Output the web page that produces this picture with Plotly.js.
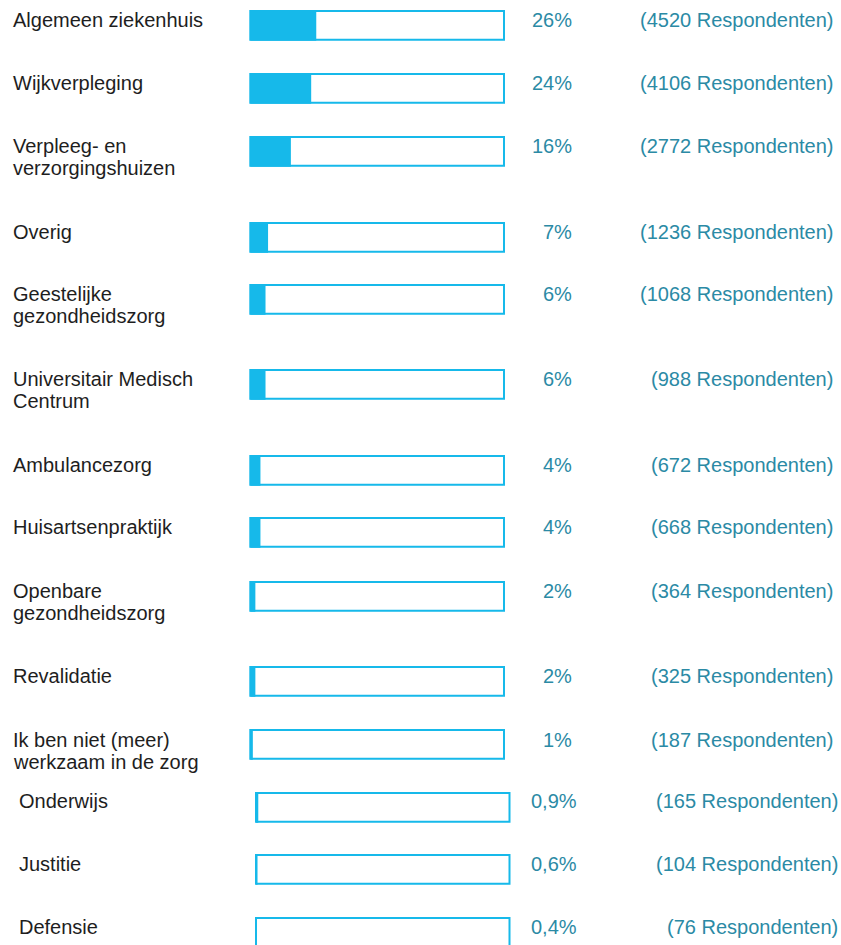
<!DOCTYPE html>
<html>
<head>
<meta charset="utf-8">
<script src="https://cdn.plot.ly/plotly-3.0.1.min.js"></script>
<style>html,body{margin:0;padding:0;background:#fff;}#chart{width:841px;height:945px;}</style>
</head>
<body>
<div id="chart"></div>
<script>
// ---- data ----
const categories = [
  "Algemeen ziekenhuis",
  "Wijkverpleging",
  "Verpleeg- en<br>verzorgingshuizen",
  "Overig",
  "Geestelijke<br>gezondheidszorg",
  "Universitair Medisch<br>Centrum",
  "Ambulancezorg",
  "Huisartsenpraktijk",
  "Openbare<br>gezondheidszorg",
  "Revalidatie",
  "Ik ben niet (meer)<br>werkzaam in de zorg",
  "Onderwijs",
  "Justitie",
  "Defensie"
];
const percentages = [26, 24, 16, 7, 6, 6, 4, 4, 2, 2, 1, 0.9, 0.6, 0.4];
const percentLabels = ["26%", "24%", "16%", "7%", "6%", "6%", "4%", "4%", "2%", "2%", "1%", "0,9%", "0,6%", "0,4%"];
const respondents = [4520, 4106, 2772, 1236, 1068, 988, 672, 668, 364, 325, 187, 165, 104, 76];
const scaleMax = 100;

// ---- layout constants (pixel layout of the rows, not data) ----
const W = 841, H = 945;
const rowTop = [10, 73, 136, 222, 284, 369, 455, 517, 581, 666, 729, 792, 854, 917];
const groupOf = [0,0,0,0,0,0,0,0,0,0,0,1,1,1];      // bottom rows are shifted slightly right
const labelLeft = [12, 18];
const pctRight = [573, 577.5];
const respRight = [833.5, 838.5];
const textMidOffset = [10.3, 10, 10, 10, 10, 10, 10, 10, 10, 10, 11, 8.5, 9.7, 10];
const lineGap = 21.8;
const boxHeight = 28.8;
const fillHeight = 30.8;
const cyan = "#16b9ea";
const teal = "#2b8aa5";
const dark = "#1e1e1e";
const fontFam = "Arial, 'Liberation Sans', Helvetica, sans-serif";
const fs = 20;

const traces = [];
[0, 1].forEach(g => {
  const idx = categories.map((_, i) => i).filter(i => groupOf[i] === g);
  const ys = idx.map(i => rowTop[i] + 15.4);
  const xa = g === 0 ? "x" : "x2";
  traces.push({
    type: "bar", orientation: "h", xaxis: xa, yaxis: "y",
    x: idx.map(() => scaleMax), y: ys, width: boxHeight,
    marker: {color: "#ffffff", line: {color: cyan, width: 2}},
    hoverinfo: "skip", showlegend: false
  });
  traces.push({
    type: "bar", orientation: "h", xaxis: xa, yaxis: "y",
    x: idx.map(i => percentages[i]), y: ys, width: fillHeight,
    marker: {color: cyan, line: {width: 0}},
    text: idx.map(i => categories[i]), textposition: "none",
    hoverinfo: "text+x", showlegend: false
  });
});

const annotations = [];
categories.forEach((c, i) => {
  const g = groupOf[i];
  const mid = rowTop[i] + textMidOffset[i];
  c.split("<br>").forEach((line, k) => {
    annotations.push({
      xref: "paper", yref: "y", x: labelLeft[g] / W, y: mid + k * lineGap,
      xanchor: "left", yanchor: "middle", text: line, showarrow: false,
      borderpad: 0, font: {family: fontFam, size: fs, color: dark}
    });
  });
  annotations.push({
    xref: "paper", yref: "y", x: pctRight[g] / W, y: mid,
    xanchor: "right", yanchor: "middle", text: percentLabels[i], showarrow: false,
    borderpad: 0, font: {family: fontFam, size: fs, color: teal}
  });
  annotations.push({
    xref: "paper", yref: "y", x: respRight[g] / W, y: mid,
    xanchor: "right", yanchor: "middle", text: "(" + respondents[i] + " Respondenten)", showarrow: false,
    borderpad: 0, font: {family: fontFam, size: fs, color: teal}
  });
});

function xRange(left, right) {
  const s = (right - left) / scaleMax;
  return [-left / s, (W - left) / s];
}
const hidden = {showgrid: false, zeroline: false, showticklabels: false, ticks: "", showline: false, fixedrange: true};

const layout = {
  width: W, height: H,
  margin: {l: 0, r: 0, t: 0, b: 0, pad: 0},
  paper_bgcolor: "#ffffff", plot_bgcolor: "#ffffff",
  barmode: "overlay",
  showlegend: false,
  xaxis: Object.assign({domain: [0, 1], range: xRange(250.3, 504), anchor: "y"}, hidden),
  xaxis2: Object.assign({domain: [0, 1], range: xRange(256, 509.5), anchor: "y", overlaying: "x"}, hidden),
  yaxis: Object.assign({domain: [0, 1], range: [H, 0], anchor: "x"}, hidden),
  annotations: annotations,
  font: {family: fontFam}
};

Plotly.newPlot("chart", traces, layout, {displayModeBar: false, staticPlot: true});
</script>
</body>
</html>
